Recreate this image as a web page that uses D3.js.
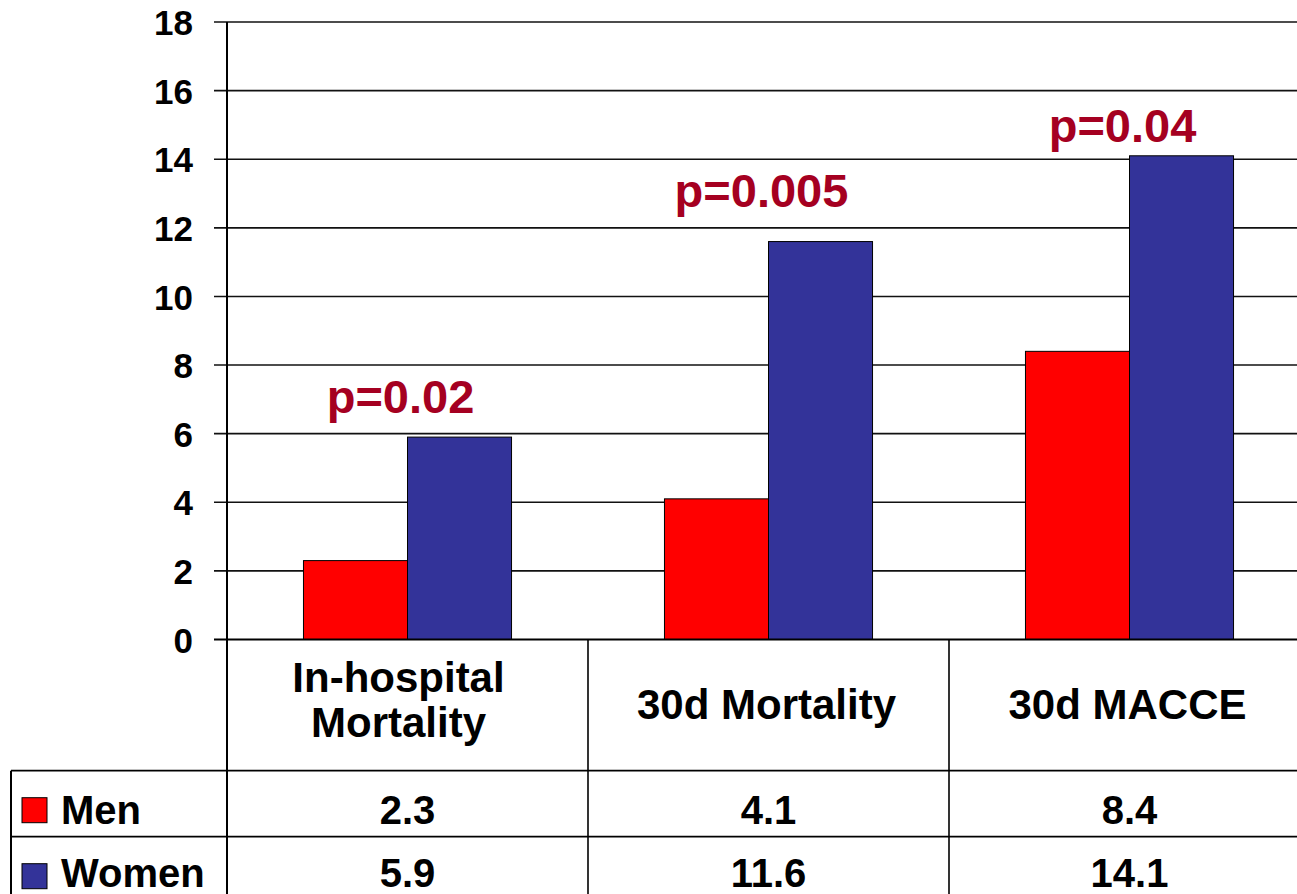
<!DOCTYPE html>
<html>
<head>
<meta charset="utf-8">
<script src="https://cdn.jsdelivr.net/npm/d3@7"></script>
<style>
  html, body { margin: 0; padding: 0; background: #fff; overflow: hidden; }
  svg { display: block; font-family: "Liberation Sans", Arial, sans-serif; font-weight: bold; }
</style>
</head>
<body>
<svg id="chart" width="1297" height="894"></svg>
<script>
// Outcomes by sex (%)
const categories = [["In-hospital", "Mortality"], ["30d Mortality"], ["30d MACCE"]];
const series = ["Men", "Women"];
const menValues = [2.3, 4.1, 8.4];
const womenValues = [5.9, 11.6, 14.1];
const pLabels = ["p=0.02", "p=0.005", "p=0.04"];
const yTicks = [0, 2, 4, 6, 8, 10, 12, 14, 16, 18];
const colors = ["#ff0000", "#333399"];
const pColor = "#a50021";

const svg = d3.select("#chart");

const plot = { left: 227, right: 1310, top: 22, bottom: 639.5 };
const table = { left: 11, headerBottom: 770.7, rowH: 66 };

const x = d3.scaleBand().domain(d3.range(categories.length))
  .range([plot.left, plot.right]).paddingInner(0).paddingOuter(0);
const xs = d3.scaleBand().domain(series)
  .range([0, x.bandwidth()]).paddingInner(0).paddingOuter(0.735);
const y = d3.scaleLinear().domain([0, 18]).range([plot.bottom, plot.top]);

const seriesValues = [menValues, womenValues];

// Gridlines and y ticks
const yAxis = d3.axisLeft(y).tickValues(yTicks).tickSize(0).tickFormat(d3.format("d"));
const gy = svg.append("g").attr("transform", `translate(${plot.left},0)`).call(yAxis);
gy.select(".domain").remove();
gy.selectAll(".tick text")
  .attr("x", -34).attr("dy", "0.36em")
  .style("font-size", "35px").style("font-family", "Liberation Sans, Arial, sans-serif")
  .style("font-weight", "bold").attr("fill", "#000");

svg.append("g").selectAll("line").data(yTicks.filter(d => d > 0)).join("line")
  .attr("x1", plot.left - 13).attr("x2", 1297)
  .attr("y1", d => y(d)).attr("y2", d => y(d))
  .attr("stroke", "#111").attr("stroke-width", 1.6);

// Bars
const groups = svg.append("g").selectAll("g").data(d3.range(categories.length)).join("g")
  .attr("transform", i => `translate(${x(i)},0)`);
groups.selectAll("rect").data(i => series.map((s, k) => ({ s, k, v: seriesValues[k][i] }))).join("rect")
  .attr("x", d => xs(d.s)).attr("width", xs.bandwidth())
  .attr("y", d => y(d.v)).attr("height", d => y(0) - y(d.v))
  .attr("fill", d => colors[d.k]).attr("stroke", "#000").attr("stroke-width", 1);

// p-value annotations
const pY = [413, 207, 142];
svg.append("g").selectAll("text").data(pLabels).join("text")
  .attr("x", (d, i) => x(i) + x.bandwidth() / 2 - 7)
  .attr("y", (d, i) => pY[i])
  .attr("text-anchor", "middle").attr("fill", pColor)
  .style("font-size", "47px").text(d => d);

// Data table lines
const lines = svg.append("g").attr("stroke", "#000");
lines.append("line").attr("x1", plot.left - 13).attr("x2", 1297)
  .attr("y1", plot.bottom).attr("y2", plot.bottom).attr("stroke-width", 2.2);
lines.append("line").attr("x1", plot.left).attr("x2", plot.left)
  .attr("y1", plot.top).attr("y2", 894).attr("stroke-width", 2);
d3.range(1, categories.length + 1).forEach(i => {
  const xx = x(i) !== undefined ? x(i) : plot.right;
  lines.append("line").attr("x1", xx).attr("x2", xx)
    .attr("y1", plot.bottom).attr("y2", 894).attr("stroke-width", 1.6);
});
lines.append("line").attr("x1", table.left).attr("x2", table.left)
  .attr("y1", table.headerBottom).attr("y2", 894).attr("stroke-width", 2);
[0, 1].forEach(r => {
  const yy = table.headerBottom + r * table.rowH;
  lines.append("line").attr("x1", table.left).attr("x2", 1297)
    .attr("y1", yy).attr("y2", yy).attr("stroke-width", 1.8);
});

// Category headers
const headerMid = (plot.bottom + table.headerBottom) / 2;
const headerDx = [-9, -2, -2];
const hdr = svg.append("g").selectAll("text").data(categories).join("text")
  .attr("text-anchor", "middle").attr("fill", "#000").style("font-size", "42px");
hdr.each(function (lbl, i) {
  const t = d3.select(this);
  const cx = x(i) + x.bandwidth() / 2 + headerDx[i];
  const lh = 45;
  const base = lbl.length > 1 ? headerMid + 9.5 : headerMid + 14;
  lbl.forEach((line, j) => {
    t.append("tspan").attr("x", cx)
      .attr("y", base + (j - (lbl.length - 1) / 2) * lh).text(line);
  });
});

// Table rows: legend key + values
series.forEach((s, k) => {
  const rowTop = table.headerBottom + k * table.rowH;
  const mid = rowTop + table.rowH / 2;
  const baseY = Math.min(mid + 20, 887);
  svg.append("rect").attr("x", 22).attr("y", mid - 6).attr("width", 25).attr("height", 25)
    .attr("fill", colors[k]).attr("stroke", "#000").attr("stroke-width", 1);
  svg.append("text").attr("x", 61).attr("y", baseY).attr("fill", "#000")
    .style("font-size", "40px").text(s);
  svg.append("g").selectAll("text").data(seriesValues[k]).join("text")
    .attr("x", (d, i) => x(i) + x.bandwidth() / 2)
    .attr("y", baseY).attr("text-anchor", "middle").attr("fill", "#000")
    .style("font-size", "40px").text(d => d3.format(".1f")(d));
});
</script>
</body>
</html>
